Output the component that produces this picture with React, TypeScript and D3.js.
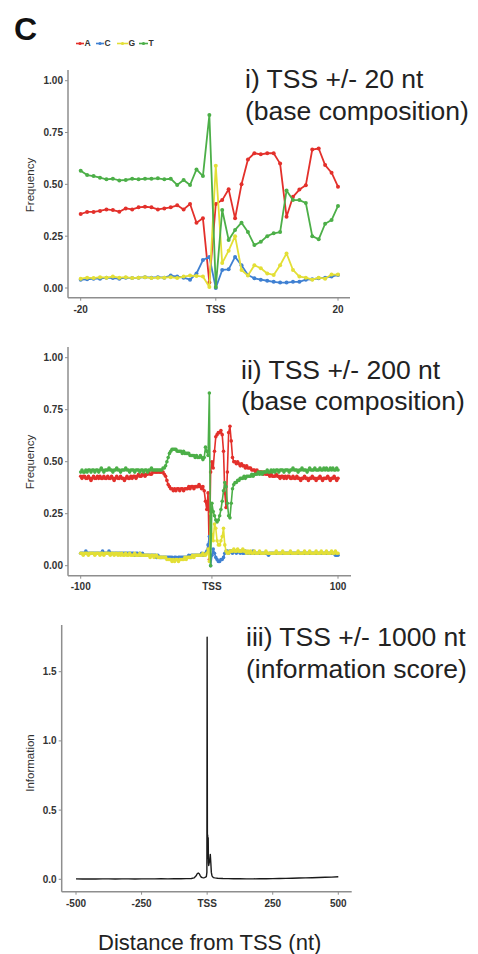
import React from 'react';
import * as d3 from 'd3';

// ---------- data ----------
const BASES = ['A', 'C', 'G', 'T'];
const BASE_COLORS = ['#e3302b', '#3f80d2', '#e3df36', '#4caf48'];

// Panel i: TSS +/- 20 nt
const POS_20 = d3.range(-20, 21);
const A_20 = [.357, .367, .367, .372, .379, .376, .368, .384, .379, .389, .392, .389, .379, .384, .389, .399, .379, .405, .315, .336, .026, .405, .424, .476, .336, .5, .62, .65, .645, .65, .65, .6, .344, .44, .475, .496, .668, .673, .593, .556, .489];
const C_20 = [.04, .042, .045, .045, .05, .048, .045, .05, .048, .05, .052, .05, .052, .05, .06, .055, .05, .04, .07, .135, .15, .0, .087, .09, .15, .11, .063, .047, .04, .035, .03, .026, .026, .03, .03, .04, .042, .047, .05, .055, .063];
const G_20 = [.045, .05, .048, .052, .05, .055, .05, .052, .048, .05, .052, .048, .05, .05, .052, .048, .055, .06, .058, .055, .005, .59, .12, .18, .25, .087, .06, .11, .095, .07, .063, .11, .167, .087, .055, .05, .04, .05, .045, .065, .065];
const T_20 = [.566, .545, .54, .532, .524, .527, .519, .521, .527, .524, .527, .527, .529, .524, .527, .497, .521, .497, .572, .54, .834, .005, .376, .232, .28, .315, .27, .207, .223, .25, .264, .27, .47, .424, .424, .41, .25, .235, .31, .328, .396];

// Panel ii: TSS +/- 200 nt (shown -100..100)
const POS_200 = d3.range(-100, 101);
const A_200 = [
  .43, .42, .43, .43, .42, .42, .43, .42, .41, .42,
  .43, .42, .42, .43, .42, .43, .42, .42, .43, .42,
  .42, .43, .42, .42, .43, .42, .41, .42, .43, .42,
  .42, .43, .42, .42, .41, .42, .43, .42, .42, .43,
  .42, .43, .43, .42, .43, .44, .43, .43, .44, .44,
  .43, .44, .44, .45, .44, .44, .45, .45, .45, .45,
  .45, .45, .45, .45, .45, .44, .43, .41, .39, .38,
  .37, .37, .36, .37, .36, .37, .37, .36, .37, .37,
  .36, .37, .37, .37, .38, .37, .38, .38, .37, .38,
  .38, .38, .39, .38, .37, .38, .36, .31, .27, .35,
  .03, .45, .50, .47, .55, .62, .63, .64, .64, .65,
  .63, .55, .35, .28, .45, .64, .67, .60, .52, .50,
  .50, .49, .50, .49, .48, .49, .48, .48, .47, .48,
  .47, .47, .47, .46, .46, .46, .45, .46, .45, .45,
  .45, .45, .44, .45, .44, .44, .44, .43, .44, .43,
  .43, .43, .44, .43, .43, .42, .43, .43, .42, .43,
  .42, .43, .43, .42, .42, .43, .42, .42, .43, .42,
  .42, .41, .42, .42, .43, .42, .42, .41, .42, .42,
  .43, .42, .42, .41, .42, .42, .43, .42, .41, .42,
  .42, .42, .43, .42, .41, .42, .42, .43, .42, .41, .42];
const C_200 = [
  .06, .06, .06, .06, .07, .06, .06, .06, .06, .06,
  .06, .06, .06, .06, .06, .06, .06, .07, .06, .06,
  .06, .06, .07, .06, .06, .06, .06, .06, .06, .06,
  .06, .06, .06, .06, .06, .06, .06, .06, .06, .06,
  .06, .06, .05, .06, .06, .05, .06, .05, .06, .05,
  .05, .05, .05, .05, .05, .05, .05, .05, .05, .04,
  .05, .04, .04, .04, .04, .04, .04, .04, .04, .04,
  .04, .04, .03, .04, .04, .03, .04, .04, .04, .04,
  .04, .04, .04, .04, .05, .04, .05, .05, .05, .05,
  .05, .05, .05, .05, .06, .05, .05, .06, .07, .10,
  .14, .00, .05, .08, .06, .04, .03, .02, .02, .03,
  .03, .04, .06, .07, .07, .06, .07, .07, .06, .07,
  .07, .06, .07, .07, .06, .07, .06, .06, .07, .06,
  .06, .06, .06, .06, .07, .06, .06, .06, .06, .06,
  .06, .06, .06, .06, .06, .06, .05, .06, .06, .06,
  .06, .06, .06, .06, .06, .06, .06, .06, .06, .06,
  .06, .06, .06, .06, .06, .06, .06, .06, .06, .06,
  .06, .06, .06, .06, .06, .06, .06, .06, .06, .06,
  .06, .06, .06, .06, .06, .06, .06, .06, .06, .06,
  .06, .06, .06, .06, .06, .06, .06, .06, .05, .05, .05];
const G_200 = [
  .06, .06, .05, .06, .06, .06, .05, .06, .06, .06,
  .06, .05, .06, .06, .06, .05, .06, .06, .05, .06,
  .06, .06, .06, .05, .06, .06, .05, .06, .06, .05,
  .06, .05, .06, .05, .05, .06, .05, .05, .06, .05,
  .05, .05, .06, .05, .05, .05, .06, .05, .05, .05,
  .05, .05, .05, .05, .04, .05, .05, .04, .05, .05,
  .04, .04, .04, .04, .04, .04, .04, .03, .03, .03,
  .03, .02, .03, .02, .03, .03, .02, .03, .03, .03,
  .03, .04, .03, .04, .04, .04, .04, .05, .04, .05,
  .05, .05, .05, .05, .05, .06, .05, .05, .06, .08,
  .02, .25, .15, .12, .20, .18, .12, .10, .10, .12,
  .14, .18, .10, .07, .06, .06, .07, .07, .07, .08,
  .07, .07, .08, .07, .07, .07, .08, .07, .07, .06,
  .07, .06, .07, .06, .06, .07, .06, .06, .06, .07,
  .06, .06, .06, .06, .07, .06, .06, .06, .06, .06,
  .06, .06, .07, .06, .06, .06, .06, .07, .06, .06,
  .06, .06, .06, .07, .06, .06, .06, .06, .06, .07,
  .06, .06, .06, .06, .07, .06, .06, .06, .07, .06,
  .06, .06, .06, .07, .06, .06, .06, .07, .06, .06,
  .06, .07, .06, .06, .06, .07, .06, .06, .07, .06, .06];
const T_200 = [
  .45, .46, .45, .45, .46, .45, .46, .46, .45, .46,
  .46, .45, .46, .46, .45, .46, .47, .46, .45, .46,
  .46, .46, .47, .46, .46, .45, .46, .46, .47, .46,
  .46, .45, .46, .46, .46, .47, .46, .46, .45, .46,
  .46, .46, .45, .46, .46, .46, .45, .46, .46, .45,
  .46, .46, .45, .46, .46, .47, .46, .46, .46, .46,
  .46, .46, .46, .46, .47, .47, .48, .50, .52, .54,
  .55, .56, .56, .56, .56, .55, .55, .55, .55, .54,
  .55, .54, .54, .54, .54, .53, .53, .53, .53, .52,
  .53, .52, .52, .53, .52, .51, .52, .57, .55, .53,
  .83, .00, .30, .26, .24, .22, .21, .22, .24, .27,
  .31, .36, .40, .38, .30, .24, .23, .30, .37, .39,
  .40, .40, .41, .41, .42, .42, .42, .43, .42, .43,
  .43, .43, .43, .44, .43, .44, .44, .44, .45, .44,
  .45, .44, .45, .45, .45, .46, .45, .45, .46, .45,
  .46, .45, .46, .46, .45, .46, .46, .46, .45, .46,
  .46, .46, .45, .46, .46, .47, .46, .46, .46, .45,
  .46, .46, .47, .46, .46, .46, .45, .46, .47, .46,
  .46, .46, .47, .46, .46, .46, .47, .46, .46, .47,
  .46, .47, .46, .46, .47, .46, .47, .46, .46, .47, .46];

// Panel iii: information score
const INFO_X = [-500, -475, -450, -425, -400, -375, -350, -325, -300, -275, -250, -225, -200, -175, -150, -125, -100, -80, -60, -50, -42, -38, -34, -30, -26, -22, -18, -14, -10, -6, -3, -1, 0, 1, 2, 3, 4, 5, 6, 8, 10, 12, 14, 16, 18, 20, 24, 30, 40, 60, 80, 100, 125, 150, 175, 200, 225, 250, 275, 300, 325, 350, 375, 400, 425, 450, 475, 500];
const INFO_Y = [.003, .002, .003, .002, .003, .003, .002, .003, .003, .002, .003, .003, .003, .004, .003, .004, .004, .005, .006, .01, .025, .04, .045, .04, .025, .015, .012, .01, .012, .015, .02, .05, 1.75, .2, .32, .15, .3, .12, .1, .12, .14, .18, .12, .05, .03, .02, .012, .01, .008, .006, .005, .004, .004, .003, .003, .004, .004, .005, .006, .007, .008, .009, .01, .011, .013, .015, .016, .018];

// ticks
const FREQ_TICKS = [0, 0.25, 0.5, 0.75, 1];
const FREQ_TICK_LABELS = ['0.00', '0.25', '0.50', '0.75', '1.00'];
const X20_TICKS = [-20, 1, 20];
const X20_LABELS = ['-20', 'TSS', '20'];
const X200_TICKS = [-100, 2, 100];
const X200_LABELS = ['-100', 'TSS', '100'];
const X1000_TICKS = [-500, -250, 0, 250, 500];
const X1000_LABELS = ['-500', '-250', 'TSS', '250', '500'];
const INFO_TICKS = [0, 0.5, 1, 1.5];
const INFO_TICK_LABELS = ['0.0', '0.5', '1.0', '1.5'];

// ---------- drawing ----------
const FONT = '"Liberation Sans", Arial, Helvetica, sans-serif';
const AXIS_COLOR = '#8e8e8e';
const TICK_TEXT = '#333';

type Frame = { axisX: number; axisY: number; axisTop: number; axisRight: number };

function Axes({ x, y, frame, xTicks, xLabels, yTicks, yLabels, yTitle, yTitleY, xLabelDy }: any) {
  const f: Frame = frame;
  return (
    <g>
      <line x1={f.axisX} x2={f.axisX} y1={f.axisTop} y2={f.axisY} stroke={AXIS_COLOR} strokeWidth={1.5} />
      <line x1={f.axisX} x2={f.axisRight} y1={f.axisY} y2={f.axisY} stroke={AXIS_COLOR} strokeWidth={1.5} />
      {yTicks.map((t: number, i: number) => (
        <g key={'y' + i}>
          <line x1={f.axisX - 3} x2={f.axisX} y1={y(t)} y2={y(t)} stroke={AXIS_COLOR} strokeWidth={1} />
          <text x={f.axisX - 5} y={y(t)} dy="0.35em" textAnchor="end" fontSize={10} fontWeight="bold" fill={TICK_TEXT} fontFamily={FONT}>{yLabels[i]}</text>
        </g>
      ))}
      {xTicks.map((t: number, i: number) => (
        <g key={'x' + i}>
          <line x1={x(t)} x2={x(t)} y1={f.axisY} y2={f.axisY + 3} stroke={AXIS_COLOR} strokeWidth={1} />
          <text x={x(t)} y={f.axisY + xLabelDy} textAnchor="middle" fontSize={10} fontWeight="bold" fill={TICK_TEXT} fontFamily={FONT}>{xLabels[i]}</text>
        </g>
      ))}
      <text transform={`translate(30,${yTitleY}) rotate(-90)`} textAnchor="middle" dy="0.35em" fontSize={11.5} fill="#333" fontFamily={FONT}>{yTitle}</text>
    </g>
  );
}

function BaseSeries({ pos, values, x, y, color, r, w }: any) {
  const line = d3.line<number>().x((_, i) => x(pos[i])).y((d) => y(d));
  return (
    <g>
      <path d={line(values) || ''} fill="none" stroke={color} strokeWidth={w} strokeLinejoin="round" />
      {values.map((v: number, i: number) => (
        <circle key={i} cx={x(pos[i])} cy={y(v)} r={r} fill={color} />
      ))}
    </g>
  );
}

function Title({ x, y1, y2, l1, l2 }: any) {
  return (
    <g fontFamily={FONT} fontSize={26.5} fill="#222">
      <text x={x} y={y1}>{l1}</text>
      <text x={x} y={y2}>{l2}</text>
    </g>
  );
}

export default function App() {
  // panel i
  const x1 = d3.scaleLinear().domain([-20, 20]).range([80.7, 338]);
  const y1 = d3.scaleLinear().domain([0, 1]).range([288, 80.7]);
  const f1 = { axisX: 68, axisY: 297.7, axisTop: 70, axisRight: 350 };
  // panel ii
  const x2 = d3.scaleLinear().domain([-100, 100]).range([80.7, 338]);
  const y2 = d3.scaleLinear().domain([0, 1]).range([565.7, 357.7]);
  const f2 = { axisX: 68, axisY: 575.7, axisTop: 347, axisRight: 351 };
  // panel iii
  const x3 = d3.scaleLinear().domain([-500, 500]).range([76, 338.3]);
  const y3 = d3.scaleLinear().domain([0, 1.5]).range([879.3, 671.7]);
  const f3 = { axisX: 61.7, axisY: 891.7, axisTop: 625, axisRight: 351.7 };

  const s20 = [A_20, C_20, G_20, T_20];
  const s200 = [A_200, C_200, G_200, T_200];
  const infoLine = d3.line<number>().x((_, i) => x3(INFO_X[i])).y((d) => y3(d));

  // legend layout
  const legendStarts = [76, 96, 117, 139];
  const legendSegW = [8, 8, 11, 9];

  return (
    <svg width={478} height={954} style={{ position: 'absolute', left: 0, top: 0, background: '#fff' }}>
      <rect x={0} y={0} width={478} height={954} fill="#fff" />
      <text x={14} y={39.5} fontFamily={FONT} fontWeight="bold" fontSize={32} fill="#111">C</text>

      {/* legend */}
      {BASES.map((b, i) => {
        const sx = legendStarts[i];
        const sw = legendSegW[i];
        return (
          <g key={b}>
            <line x1={sx} x2={sx + sw} y1={43.5} y2={43.5} stroke={BASE_COLORS[i]} strokeWidth={1.6} />
            <circle cx={sx + sw / 2} cy={43.5} r={1.6} fill={BASE_COLORS[i]} />
            <text x={sx + sw + 0.5} y={43.5} dy="0.35em" fontFamily={FONT} fontWeight="bold" fontSize={8.5} fill="#333">{b}</text>
          </g>
        );
      })}

      {/* panel i */}
      <Axes x={x1} y={y1} frame={f1} xTicks={X20_TICKS} xLabels={X20_LABELS} yTicks={FREQ_TICKS} yLabels={FREQ_TICK_LABELS} yTitle="Frequency" yTitleY={185} xLabelDy={15.5} />
      {s20.map((vals, i) => (
        <BaseSeries key={i} pos={POS_20} values={vals} x={x1} y={y1} color={BASE_COLORS[i]} r={2} w={1.8} />
      ))}
      <Title x={245} y1={88} y2={120} l1="i) TSS +/- 20 nt" l2="(base composition)" />

      {/* panel ii */}
      <Axes x={x2} y={y2} frame={f2} xTicks={X200_TICKS} xLabels={X200_LABELS} yTicks={FREQ_TICKS} yLabels={FREQ_TICK_LABELS} yTitle="Frequency" yTitleY={462} xLabelDy={14.5} />
      {s200.map((vals, i) => (
        <BaseSeries key={i} pos={POS_200} values={vals} x={x2} y={y2} color={BASE_COLORS[i]} r={1.8} w={1.6} />
      ))}
      <Title x={241} y1={379} y2={410} l1="ii) TSS +/- 200 nt" l2="(base composition)" />

      {/* panel iii */}
      <Axes x={x3} y={y3} frame={f3} xTicks={X1000_TICKS} xLabels={X1000_LABELS} yTicks={INFO_TICKS} yLabels={INFO_TICK_LABELS} yTitle="Information" yTitleY={763} xLabelDy={15} />
      <path d={infoLine(INFO_Y) || ''} fill="none" stroke="#1a1a1a" strokeWidth={1.4} strokeLinejoin="round" />
      <Title x={246} y1={646} y2={678} l1="iii) TSS +/- 1000 nt" l2="(information score)" />

      <text x={209.7} y={950} textAnchor="middle" fontFamily={FONT} fontSize={22} fill="#222">Distance from TSS (nt)</text>
    </svg>
  );
}
